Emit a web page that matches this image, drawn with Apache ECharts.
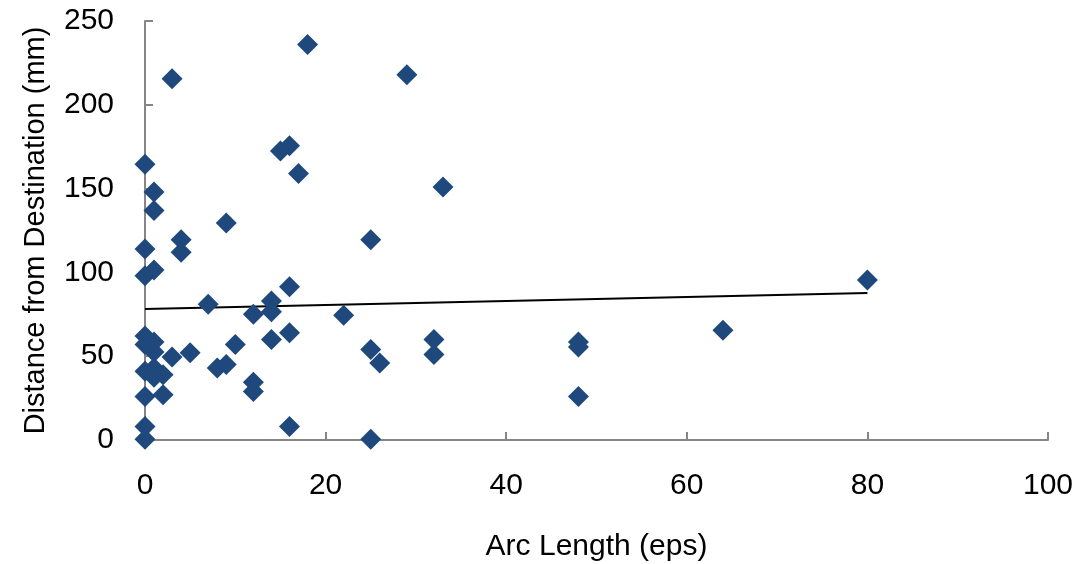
<!DOCTYPE html>
<html>
<head>
<meta charset="utf-8">
<script src="https://cdn.jsdelivr.net/npm/echarts@6/dist/echarts.min.js"></script>
<style>
  html, body { margin: 0; padding: 0; background: #fff; }
  #chart1 { width: 1081px; height: 564px; }
</style>
</head>
<body>
<div id="chart1"></div>
<script>
// arc length (eps) / distance from destination (mm)
const arcLength = [
  3, 18, 29, 33, 15, 16, 17, 0, 1, 1,
  9, 4, 4, 0, 0, 1, 16, 25, 7, 14,
  12, 14, 16, 14, 10, 0, 0, 1, 1, 3,
  5, 0, 1, 2, 1, 8, 9, 12, 12, 0,
  2, 0, 0, 16, 22, 25, 26, 32, 32, 25,
  48, 48, 48, 64, 80
];
const distance = [
  215.5, 236, 218, 151, 172.5, 175.5, 159, 164.5, 148, 137,
  129.5, 119.5, 112, 114, 98, 101.5, 91.5, 119.5, 81, 83,
  75, 76.5, 64, 60, 57, 62, 57, 58.5, 52.5, 49.5,
  52, 41, 43, 39, 37.5, 43, 45, 34.5, 29, 26,
  27, 8, 0.5, 8, 74.5, 54, 46, 60, 51, 0.5,
  58.5, 55.5, 26, 65.5, 95.5
];
// linear trend line end points
const trendX = [0, 80];
const trendY = [78.2, 87.7];

const xTicks = [0, 20, 40, 60, 80, 100];
const yTicks = [0, 50, 100, 150, 200, 250];

const chartDom = document.getElementById('chart1');
const myChart = echarts.init(chartDom);

const font = 'Liberation Sans, Arial, sans-serif';
const axisGray = '#868686';

const option = {
  animation: false,
  backgroundColor: '#fff',
  grid: { left: 145, right: 33, top: 21, bottom: 124, outerBoundsMode: 'none', containLabel: false },
  xAxis: {
    type: 'value',
    min: xTicks[0],
    max: xTicks[xTicks.length - 1],
    interval: xTicks[1] - xTicks[0],
    name: 'Arc Length (eps)',
    nameLocation: 'middle',
    nameGap: 92,
    nameTextStyle: { fontFamily: font, fontSize: 30, color: '#000' },
    axisLine: { show: true, onZero: false, lineStyle: { color: axisGray, width: 2 } },
    axisTick: { show: true, inside: true, length: 8, lineStyle: { color: axisGray, width: 2 } },
    axisLabel: { fontFamily: font, fontSize: 30, color: '#000', margin: 31 },
    splitLine: { show: false }
  },
  yAxis: {
    type: 'value',
    min: yTicks[0],
    max: yTicks[yTicks.length - 1],
    interval: yTicks[1] - yTicks[0],
    name: 'Distance from Destination (mm)',
    nameLocation: 'middle',
    nameGap: 95,
    nameTextStyle: { fontFamily: font, fontSize: 29, color: '#000' },
    axisLine: { show: true, onZero: false, lineStyle: { color: axisGray, width: 2 } },
    axisTick: { show: true, inside: true, length: 8, lineStyle: { color: axisGray, width: 2 } },
    axisLabel: { fontFamily: font, fontSize: 30, color: '#000', margin: 31 },
    splitLine: { show: false }
  },
  series: [
    {
      type: 'line',
      data: trendX.map((x, i) => [x, trendY[i]]),
      showSymbol: false,
      symbol: 'none',
      lineStyle: { color: '#000', width: 2 },
      z: 1
    },
    {
      type: 'scatter',
      data: arcLength.map((x, i) => [x, distance[i]]),
      symbol: 'diamond',
      symbolSize: 21,
      clip: false,
      itemStyle: { color: '#1F497D', opacity: 1 },
      z: 3
    }
  ]
};

myChart.setOption(option);

window.addEventListener('resize', () => {
  myChart.resize();
});
</script>
</body>
</html>
